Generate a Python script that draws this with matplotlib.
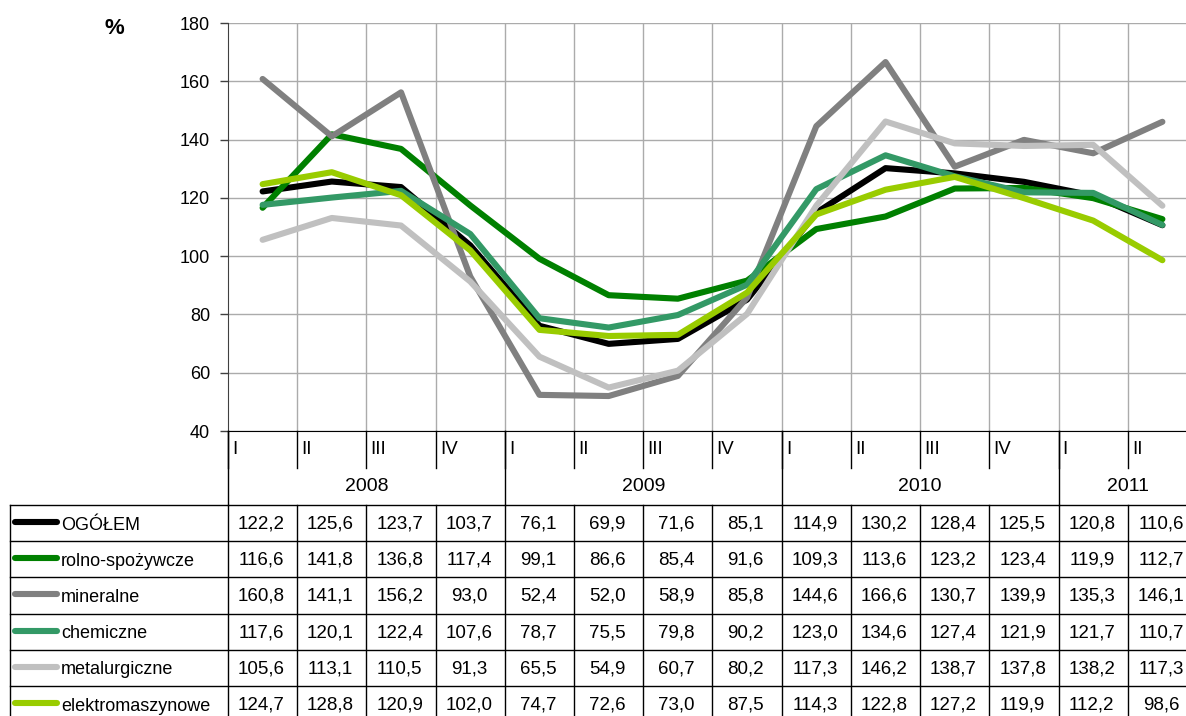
import matplotlib
matplotlib.use('Agg')
import matplotlib.pyplot as plt

# ---------------- dane ----------------
quarters = ['I', 'II', 'III', 'IV', 'I', 'II', 'III', 'IV', 'I', 'II', 'III', 'IV', 'I', 'II']
years = ['2008', '2009', '2010', '2011']
year_len = [4, 4, 4, 2]

names = ['OGÓŁEM', 'rolno-spożywcze', 'mineralne', 'chemiczne', 'metalurgiczne', 'elektromaszynowe']
ogolem = [122.2, 125.6, 123.7, 103.7, 76.1, 69.9, 71.6, 85.1, 114.9, 130.2, 128.4, 125.5, 120.8, 110.6]
rolno = [116.6, 141.8, 136.8, 117.4, 99.1, 86.6, 85.4, 91.6, 109.3, 113.6, 123.2, 123.4, 119.9, 112.7]
mineralne = [160.8, 141.1, 156.2, 93.0, 52.4, 52.0, 58.9, 85.8, 144.6, 166.6, 130.7, 139.9, 135.3, 146.1]
chemiczne = [117.6, 120.1, 122.4, 107.6, 78.7, 75.5, 79.8, 90.2, 123.0, 134.6, 127.4, 121.9, 121.7, 110.7]
metal = [105.6, 113.1, 110.5, 91.3, 65.5, 54.9, 60.7, 80.2, 117.3, 146.2, 138.7, 137.8, 138.2, 117.3]
elektro = [124.7, 128.8, 120.9, 102.0, 74.7, 72.6, 73.0, 87.5, 114.3, 122.8, 127.2, 119.9, 112.2, 98.6]
series = [ogolem, rolno, mineralne, chemiczne, metal, elektro]
colors = ['#000000', '#008000', '#808080', '#339966', '#C0C0C0', '#99CC00']

plt.rcParams['font.family'] = ['Liberation Sans Narrow', 'Liberation Sans', 'DejaVu Sans']

W, H = 1186, 716
n = len(quarters)
fig = plt.figure(figsize=(W / 100, H / 100), dpi=100)

# ---------------- wykres ----------------
ax = fig.add_axes([228 / W, 285 / H, 969 / W, 408 / H])
x = [i + 0.5 for i in range(n)]
for s, c in zip(series, colors):
    ax.plot(x, s, color=c, lw=4.4, solid_capstyle='round', solid_joinstyle='round', zorder=3)

ax.set_xlim(0, n)
ax.set_ylim(40, 180)
ax.set_yticks(range(40, 181, 20))
ax.set_xticks(range(1, n))
ax.set_xticklabels([])
ax.tick_params(axis='x', length=0)
ax.tick_params(axis='y', length=6, width=1, color='#404040', labelsize=13, pad=7)
ax.grid(True, color='#ABABAB', lw=1)
ax.set_axisbelow(True)
for k in ['top', 'right']:
    ax.spines[k].set_visible(False)
ax.spines['left'].set_color('#404040')
ax.spines['bottom'].set_color('#000000')
ax.patch.set_alpha(0)
fig.text(114 / W, 1 - 29 / H, '%', fontsize=16, fontweight='bold', ha='center', va='center')

# ---------------- tabela ----------------
tab = fig.add_axes([228 / W, 0, 969 / W, 285 / H])
tab.set_xlim(0, n)
tab.set_ylim(H, 431)
tab.axis('off')
cw = 969 / n
left = (10 - 228) / cw
row_top = 505
rh = 36.2
kw = dict(color='black', lw=1, clip_on=False)

# podzial na kwartaly i lata
for i in range(n + 1):
    tab.plot([i, i], [431, 468], **kw)
    tab.plot([i, i], [row_top, H], **kw)
b = 0
for yr, ln in zip(years, year_len):
    tab.plot([b, b], [431, row_top], **kw)
    tab.text(b + ln / 2, 487, yr, fontsize=14, ha='center', va='center')
    b += ln
for i, q in enumerate(quarters):
    tab.text(i + 0.06, 450, q, fontsize=13.5, ha='left', va='center')

# linie poziome
for r in range(len(names)):
    tab.plot([left, n], [row_top + r * rh, row_top + r * rh], **kw)
tab.plot([left, left], [row_top, H], **kw)

for r, (nm, s, c) in enumerate(zip(names, series, colors)):
    yc = row_top + (r + 0.5) * rh + 1
    tab.plot([(15 - 228) / cw, (57 - 228) / cw], [yc - 2, yc - 2], color=c, lw=4.4,
             solid_capstyle='round', clip_on=False)
    tab.text((61 - 228) / cw, yc + 1, nm, fontsize=13, ha='left', va='center')
    for i, v in enumerate(s):
        tab.text(i + 0.48, yc, f'{v:.1f}'.replace('.', ','), fontsize=13.5,
                 ha='center', va='center')

fig.savefig('out.png', dpi=100)
